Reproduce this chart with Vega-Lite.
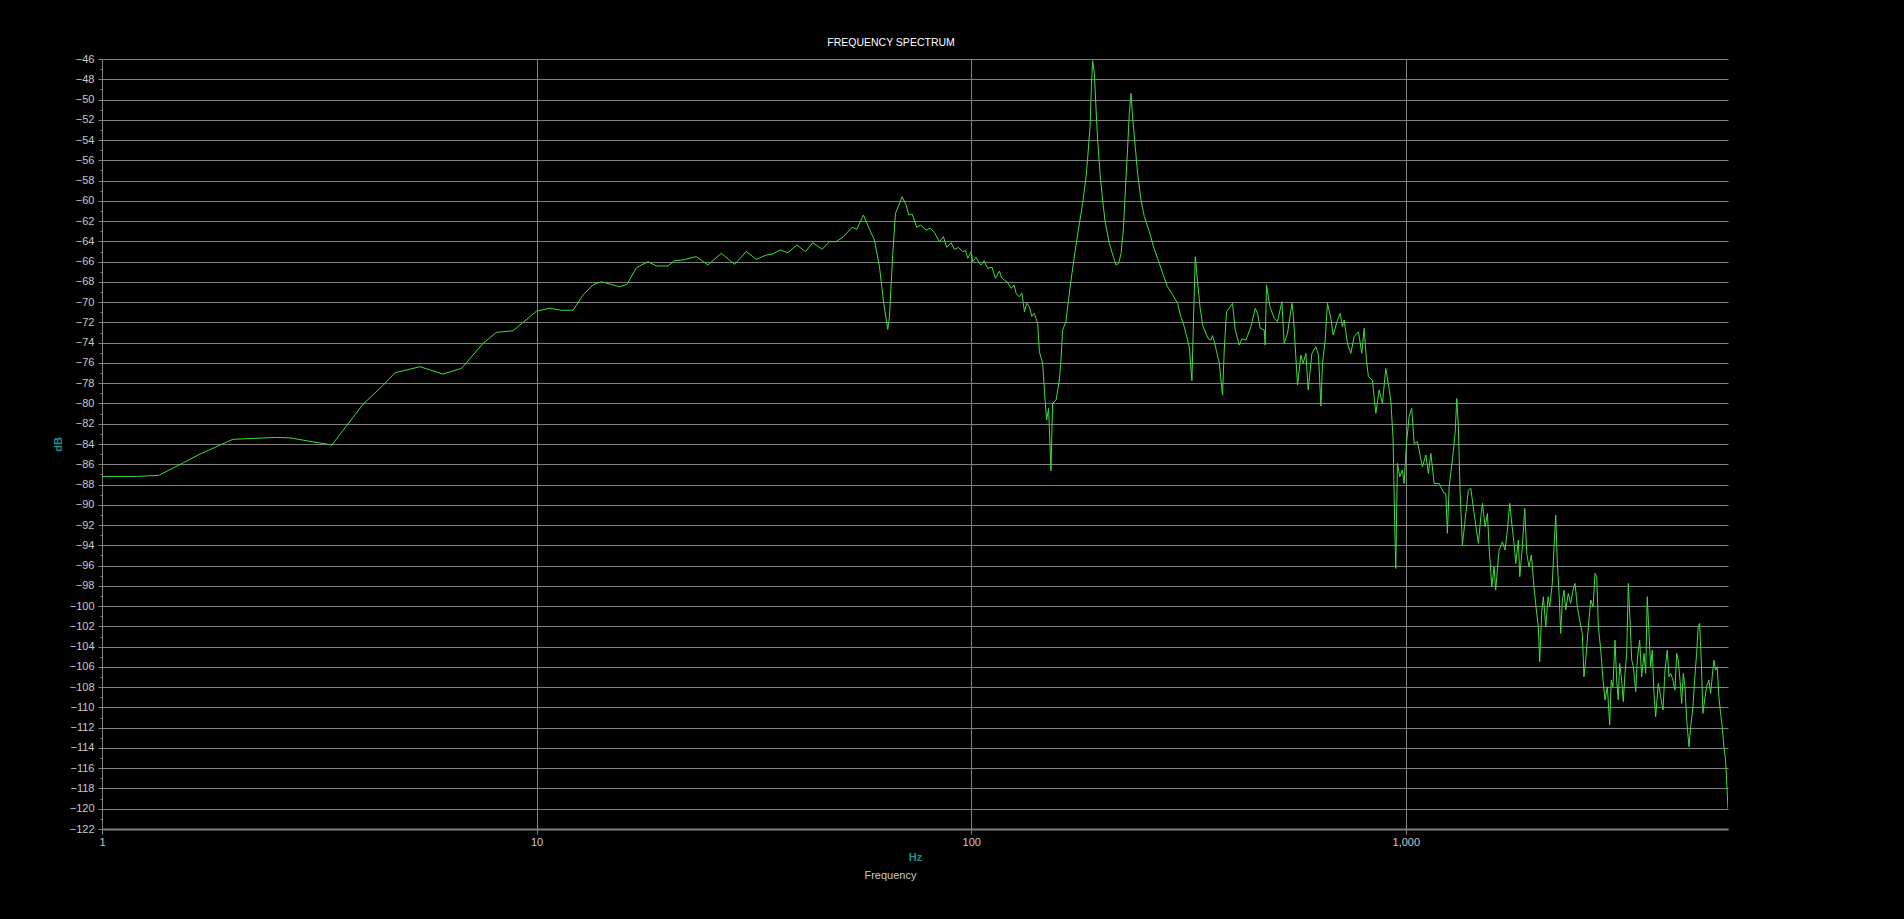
{
  "$schema": "https://vega.github.io/schema/vega-lite/v6.json",
  "autosize": "none",
  "width": 1626,
  "height": 770,
  "padding": {"left": 102, "top": 59, "right": 176, "bottom": 90},
  "background": "#000000",
  "config": {
    "view": {"stroke": null},
    "font": "Liberation Sans"
  },
  "title": {
    "text": "FREQUENCY SPECTRUM",
    "color": "#ffffff",
    "font": "Liberation Sans",
    "fontSize": 10.5,
    "fontWeight": "normal",
    "anchor": "middle",
    "dx": -24,
    "offset": 5
  },
  "layer": [
    {
      "data": {
        "values": [
          {"f": 1, "db": -87.2}, {"f": 1.2, "db": -87.2}, {"f": 1.35, "db": -87.1}, {"f": 1.54, "db": -85.85},
          {"f": 1.68, "db": -85.0}, {"f": 2.0, "db": -83.54}, {"f": 2.23, "db": -83.45}, {"f": 2.52, "db": -83.35},
          {"f": 2.71, "db": -83.4}, {"f": 2.96, "db": -83.68}, {"f": 3.38, "db": -84.1}, {"f": 3.99, "db": -80.06},
          {"f": 4.44, "db": -78.18}, {"f": 4.72, "db": -76.97}, {"f": 5.39, "db": -76.37}, {"f": 6.09, "db": -77.1},
          {"f": 6.72, "db": -76.53}, {"f": 7.53, "db": -74.07}, {"f": 8.08, "db": -72.98}, {"f": 8.83, "db": -72.82},
          {"f": 10.0, "db": -70.88}, {"f": 10.72, "db": -70.6}, {"f": 11.4, "db": -70.8}, {"f": 12.13, "db": -70.8},
          {"f": 12.79, "db": -69.3}, {"f": 13.48, "db": -68.3}, {"f": 14.09, "db": -67.98}, {"f": 15.53, "db": -68.48},
          {"f": 16.14, "db": -68.24}, {"f": 16.97, "db": -66.6}, {"f": 18.04, "db": -66.0}, {"f": 18.86, "db": -66.43},
          {"f": 20.05, "db": -66.43}, {"f": 20.78, "db": -65.9}, {"f": 21.71, "db": -65.84}, {"f": 23.31, "db": -65.5},
          {"f": 24.78, "db": -66.33}, {"f": 26.6, "db": -65.18}, {"f": 28.55, "db": -66.27}, {"f": 30.37, "db": -65.0},
          {"f": 32.03, "db": -65.77}, {"f": 33.76, "db": -65.35}, {"f": 34.97, "db": -65.25}, {"f": 36.36, "db": -64.85},
          {"f": 37.86, "db": -65.12}, {"f": 39.71, "db": -64.36}, {"f": 41.57, "db": -65.02}, {"f": 43.2, "db": -64.13},
          {"f": 45.41, "db": -64.79}, {"f": 47.2, "db": -64.03}, {"f": 48.9, "db": -64.03}, {"f": 50.8, "db": -63.54},
          {"f": 53.2, "db": -62.61}, {"f": 54.54, "db": -62.81}, {"f": 56.5, "db": -61.4}, {"f": 58.33, "db": -62.81},
          {"f": 59.9, "db": -63.87}, {"f": 61.5, "db": -66.5}, {"f": 62.92, "db": -70.12}, {"f": 64.27, "db": -72.69},
          {"f": 64.85, "db": -71.44}, {"f": 66.0, "db": -65.18}, {"f": 66.95, "db": -61.23}, {"f": 69.36, "db": -59.6},
          {"f": 70.84, "db": -60.41}, {"f": 71.82, "db": -61.4}, {"f": 73.13, "db": -61.3}, {"f": 74.93, "db": -62.61},
          {"f": 76.5, "db": -62.4}, {"f": 78.76, "db": -62.88}, {"f": 80.5, "db": -62.7}, {"f": 82.3, "db": -63.14},
          {"f": 84.5, "db": -64.03}, {"f": 86.3, "db": -63.54}, {"f": 87.85, "db": -64.59}, {"f": 89.9, "db": -64.13},
          {"f": 91.5, "db": -64.79}, {"f": 93.5, "db": -64.6}, {"f": 95.6, "db": -65.02}, {"f": 97, "db": -64.9},
          {"f": 98.2, "db": -65.67}, {"f": 100, "db": -65.02}, {"f": 100.8, "db": -66.0}, {"f": 102.6, "db": -65.58},
          {"f": 104.4, "db": -66.17}, {"f": 105.4, "db": -66.33}, {"f": 107, "db": -65.9}, {"f": 109.1, "db": -66.66},
          {"f": 111.7, "db": -66.56}, {"f": 113.7, "db": -67.65}, {"f": 116.1, "db": -66.93}, {"f": 117.5, "db": -67.6},
          {"f": 119.2, "db": -67.82}, {"f": 121, "db": -68.0}, {"f": 123.6, "db": -68.64}, {"f": 125.5, "db": -68.3},
          {"f": 127, "db": -69.2}, {"f": 129.1, "db": -69.47}, {"f": 130.8, "db": -69.1}, {"f": 132.6, "db": -70.95},
          {"f": 134.2, "db": -70.1}, {"f": 136.1, "db": -70.45}, {"f": 137.8, "db": -71.4}, {"f": 139.7, "db": -71.1},
          {"f": 142.2, "db": -72.09}, {"f": 143.5, "db": -74.89}, {"f": 146, "db": -76.04}, {"f": 148.1, "db": -79.99},
          {"f": 149.1, "db": -81.64}, {"f": 150.7, "db": -80.48}, {"f": 152.6, "db": -86.64}, {"f": 153.9, "db": -79.99},
          {"f": 156.8, "db": -79.66}, {"f": 159.5, "db": -77.69}, {"f": 160.9, "db": -75.71}, {"f": 162.3, "db": -72.75},
          {"f": 165.2, "db": -71.93}, {"f": 166.7, "db": -70.45}, {"f": 169.7, "db": -67.82}, {"f": 173.6, "db": -64.85},
          {"f": 177.4, "db": -62.22}, {"f": 180.5, "db": -60.24}, {"f": 183.8, "db": -57.62}, {"f": 185.3, "db": -55.8},
          {"f": 187.7, "db": -52.68}, {"f": 189, "db": -48.73}, {"f": 190.3, "db": -46.17}, {"f": 192, "db": -47.41},
          {"f": 193.8, "db": -51.03}, {"f": 195.4, "db": -54.0}, {"f": 197.9, "db": -57.28}, {"f": 200.6, "db": -59.92},
          {"f": 203.3, "db": -62.06}, {"f": 207.9, "db": -64.2}, {"f": 212.3, "db": -65.52}, {"f": 215.4, "db": -66.34},
          {"f": 218.4, "db": -66.17}, {"f": 221.2, "db": -65.18}, {"f": 223.9, "db": -62.88}, {"f": 226.3, "db": -58.93},
          {"f": 229.1, "db": -54.66}, {"f": 231.1, "db": -51.36}, {"f": 233.2, "db": -49.39}, {"f": 235.1, "db": -51.69},
          {"f": 238.5, "db": -54.66}, {"f": 241.5, "db": -57.28}, {"f": 245.9, "db": -59.92}, {"f": 250.2, "db": -61.56},
          {"f": 257, "db": -63.05}, {"f": 263, "db": -64.6}, {"f": 270.9, "db": -66.17}, {"f": 276, "db": -67.2},
          {"f": 283, "db": -68.48}, {"f": 290, "db": -69.2}, {"f": 298.5, "db": -70.12}, {"f": 303, "db": -71.3},
          {"f": 309.2, "db": -72.42}, {"f": 317.5, "db": -74.4}, {"f": 322, "db": -77.76}, {"f": 325, "db": -71.1},
          {"f": 327.8, "db": -65.52}, {"f": 331.6, "db": -67.82}, {"f": 336, "db": -70.45}, {"f": 341, "db": -72.3},
          {"f": 346.8, "db": -73.08}, {"f": 351, "db": -73.6}, {"f": 356.2, "db": -73.74}, {"f": 359, "db": -73.3},
          {"f": 362.5, "db": -73.9}, {"f": 367, "db": -74.9}, {"f": 372.2, "db": -76.04}, {"f": 378.7, "db": -79.17},
          {"f": 382.1, "db": -74.73}, {"f": 386.9, "db": -70.94}, {"f": 392.3, "db": -70.61}, {"f": 399.3, "db": -70.12},
          {"f": 405.1, "db": -72.75}, {"f": 413.7, "db": -74.23}, {"f": 420, "db": -73.6}, {"f": 428.7, "db": -73.74},
          {"f": 440.2, "db": -72.42}, {"f": 450.3, "db": -70.61}, {"f": 455.9, "db": -71.1}, {"f": 462.3, "db": -72.58},
          {"f": 472.2, "db": -72.75}, {"f": 474.7, "db": -74.23}, {"f": 478, "db": -68.3}, {"f": 486.7, "db": -70.45},
          {"f": 498, "db": -71.6}, {"f": 506.7, "db": -71.93}, {"f": 518.6, "db": -69.95}, {"f": 525, "db": -74.07},
          {"f": 534.3, "db": -73.08}, {"f": 547, "db": -70.12}, {"f": 550.7, "db": -71.1}, {"f": 556.6, "db": -74.4},
          {"f": 563.4, "db": -78.18}, {"f": 573.6, "db": -75.22}, {"f": 580.7, "db": -76.04}, {"f": 589, "db": -75.05},
          {"f": 596.2, "db": -78.67}, {"f": 608, "db": -75.05}, {"f": 621, "db": -74.4}, {"f": 629.7, "db": -75.22},
          {"f": 637.7, "db": -80.25}, {"f": 643.2, "db": -76.04}, {"f": 652.4, "db": -73.74}, {"f": 660.3, "db": -70.12},
          {"f": 672.3, "db": -71.6}, {"f": 680.6, "db": -73.25}, {"f": 696.2, "db": -71.77}, {"f": 706.3, "db": -71.1},
          {"f": 714.9, "db": -72.42}, {"f": 721.3, "db": -71.77}, {"f": 734, "db": -74.07}, {"f": 747.3, "db": -75.05},
          {"f": 760.5, "db": -73.41}, {"f": 778, "db": -72.92}, {"f": 792.1, "db": -75.05}, {"f": 801.9, "db": -72.58},
          {"f": 811.7, "db": -75.71}, {"f": 820.3, "db": -77.36}, {"f": 837.9, "db": -77.69}, {"f": 853.1, "db": -80.98},
          {"f": 868.2, "db": -78.67}, {"f": 883.5, "db": -79.99}, {"f": 899.4, "db": -76.53}, {"f": 923.6, "db": -79.66},
          {"f": 935, "db": -83.61}, {"f": 943.4, "db": -92.5}, {"f": 948.4, "db": -96.28}, {"f": 956.5, "db": -85.91},
          {"f": 968.7, "db": -87.23}, {"f": 982.2, "db": -86.57}, {"f": 991.1, "db": -87.89}, {"f": 1003.5, "db": -83.94},
          {"f": 1017.6, "db": -81.31}, {"f": 1032, "db": -80.48}, {"f": 1045, "db": -83.94}, {"f": 1063.4, "db": -83.78},
          {"f": 1092, "db": -86.24}, {"f": 1112, "db": -85.09}, {"f": 1127, "db": -86.9}, {"f": 1142, "db": -84.92},
          {"f": 1162, "db": -87.89}, {"f": 1193, "db": -87.89}, {"f": 1225, "db": -88.87}, {"f": 1236, "db": -88.87},
          {"f": 1246.5, "db": -92.82}, {"f": 1258, "db": -88.22}, {"f": 1285, "db": -84.92}, {"f": 1298.5, "db": -82.95},
          {"f": 1310, "db": -79.5}, {"f": 1321.2, "db": -82.3}, {"f": 1333, "db": -88.55}, {"f": 1349.5, "db": -93.97},
          {"f": 1369, "db": -91.51}, {"f": 1393, "db": -88.55}, {"f": 1411, "db": -88.38}, {"f": 1436, "db": -90.85},
          {"f": 1469, "db": -93.81}, {"f": 1488, "db": -91.18}, {"f": 1501, "db": -89.86}, {"f": 1522, "db": -92.17},
          {"f": 1541, "db": -90.85}, {"f": 1554.5, "db": -94.14}, {"f": 1577, "db": -98.09}, {"f": 1596, "db": -96.12},
          {"f": 1610, "db": -98.42}, {"f": 1639, "db": -94.47}, {"f": 1668, "db": -93.65}, {"f": 1692, "db": -94.47},
          {"f": 1713, "db": -92.5}, {"f": 1734.5, "db": -89.86}, {"f": 1753, "db": -91.84}, {"f": 1774.6, "db": -93.81},
          {"f": 1790.6, "db": -95.78}, {"f": 1815.5, "db": -93.48}, {"f": 1829, "db": -97.1}, {"f": 1854, "db": -94.14},
          {"f": 1878, "db": -90.35}, {"f": 1898, "db": -94.8}, {"f": 1921, "db": -96.12}, {"f": 1945, "db": -94.96},
          {"f": 1972, "db": -98.09}, {"f": 1997, "db": -100.39}, {"f": 2018, "db": -102.04}, {"f": 2033, "db": -105.5},
          {"f": 2055, "db": -100.55}, {"f": 2072.6, "db": -99.07}, {"f": 2099, "db": -102.04}, {"f": 2125, "db": -99.07},
          {"f": 2143.5, "db": -100.06}, {"f": 2173, "db": -97.76}, {"f": 2193, "db": -94.14}, {"f": 2213, "db": -91.01},
          {"f": 2232, "db": -95.78}, {"f": 2252, "db": -98.75}, {"f": 2272, "db": -102.69}, {"f": 2292, "db": -99.4},
          {"f": 2312, "db": -98.42}, {"f": 2333, "db": -100.39}, {"f": 2365, "db": -98.75}, {"f": 2395, "db": -99.73},
          {"f": 2425, "db": -98.42}, {"f": 2451, "db": -97.76}, {"f": 2481, "db": -100.06}, {"f": 2512.6, "db": -101.38},
          {"f": 2547.5, "db": -102.69}, {"f": 2570, "db": -106.98}, {"f": 2594, "db": -105.33}, {"f": 2630, "db": -102.04},
          {"f": 2664, "db": -99.4}, {"f": 2697, "db": -100.06}, {"f": 2725.6, "db": -96.77}, {"f": 2750, "db": -97.1},
          {"f": 2773.5, "db": -102.04}, {"f": 2809, "db": -104.34}, {"f": 2843, "db": -107.3}, {"f": 2873, "db": -109.27},
          {"f": 2909, "db": -107.96}, {"f": 2945, "db": -111.74}, {"f": 2970, "db": -107.3}, {"f": 2997, "db": -107.96},
          {"f": 3029, "db": -103.35}, {"f": 3056, "db": -107.3}, {"f": 3082, "db": -109.27}, {"f": 3105, "db": -105.65},
          {"f": 3138, "db": -107.3}, {"f": 3165, "db": -109.44}, {"f": 3194, "db": -106.64}, {"f": 3223, "db": -104.67},
          {"f": 3251, "db": -97.76}, {"f": 3280, "db": -101.38}, {"f": 3310, "db": -105.33}, {"f": 3338.5, "db": -105.99},
          {"f": 3381, "db": -108.45}, {"f": 3409, "db": -105.33}, {"f": 3452, "db": -103.35}, {"f": 3489, "db": -106.98},
          {"f": 3532, "db": -104.67}, {"f": 3564, "db": -106.64}, {"f": 3594, "db": -99.07}, {"f": 3627, "db": -102.69},
          {"f": 3660, "db": -105.99}, {"f": 3691, "db": -104.34}, {"f": 3724, "db": -108.62}, {"f": 3758, "db": -110.93},
          {"f": 3810, "db": -107.63}, {"f": 3859, "db": -108.95}, {"f": 3906, "db": -110.26}, {"f": 3948, "db": -106.31},
          {"f": 3996, "db": -104.34}, {"f": 4032, "db": -106.98}, {"f": 4068.5, "db": -106.64}, {"f": 4118, "db": -107.3},
          {"f": 4162, "db": -108.29}, {"f": 4200, "db": -104.67}, {"f": 4236, "db": -105.33}, {"f": 4274.5, "db": -107.3},
          {"f": 4313, "db": -109.6}, {"f": 4350, "db": -106.64}, {"f": 4389, "db": -107.96}, {"f": 4428.5, "db": -111.25},
          {"f": 4483, "db": -113.89}, {"f": 4523, "db": -111.91}, {"f": 4578, "db": -109.93}, {"f": 4619, "db": -107.3},
          {"f": 4668, "db": -104.67}, {"f": 4708, "db": -102.04}, {"f": 4743, "db": -101.71}, {"f": 4784, "db": -105.33},
          {"f": 4827, "db": -110.59}, {"f": 4870, "db": -109.27}, {"f": 4922, "db": -107.96}, {"f": 4982, "db": -107.3},
          {"f": 5027, "db": -108.62}, {"f": 5070, "db": -106.98}, {"f": 5116, "db": -105.33}, {"f": 5162, "db": -106.31},
          {"f": 5206, "db": -105.99}, {"f": 5253, "db": -108.95}, {"f": 5300, "db": -110.59}, {"f": 5346, "db": -111.91},
          {"f": 5394, "db": -113.89}, {"f": 5442, "db": -115.2}, {"f": 5480, "db": -117.7}, {"f": 5512, "db": -120.0}
        ]
      },
      "mark": {"type": "line", "color": "#3fdc3f", "strokeWidth": 1, "clip": true},
      "encoding": {
        "x": {
          "field": "f",
          "type": "quantitative",
          "scale": {"type": "log", "domain": [1, 5512.5], "nice": false},
          "axis": {
            "title": "Hz",
            "titleColor": "#1f9090",
            "titleFont": "Liberation Sans",
            "titleFontSize": 11,
            "titleFontWeight": "bold",
            "titlePadding": 4,
            "values": [1, 10, 100, 1000],
            "format": ",",
            "labelColor": "#c8c8c8",
            "labelFont": "Liberation Sans",
            "labelFontSize": 11,
            "labelPadding": 2,
            "labelFlush": false,
            "tickColor": "#808080",
            "tickSize": 5,
            "domainColor": "#808080",
            "domainWidth": 2,
            "grid": true,
            "gridColor": "#808080",
            "gridWidth": 1
          }
        },
        "y": {
          "field": "db",
          "type": "quantitative",
          "scale": {"domain": [-122, -46], "nice": false, "zero": false},
          "axis": {
            "title": "dB",
            "titleColor": "#1f9090",
            "titleFont": "Liberation Sans",
            "titleFontSize": 11,
            "titleFontWeight": "bold",
            "titlePadding": 6,
            "tickCount": 152,
            "format": "d",
            "labelExpr": "datum.value % 2 === 0 ? datum.label : ''",
            "labelOverlap": false,
            "labelColor": "#c8c8c8",
            "labelFont": "Liberation Sans",
            "labelFontSize": 11,
            "labelPadding": 4,
            "labelFlush": false,
            "tickColor": "#808080",
            "tickSize": {"condition": {"test": "datum.value % 2 === 0", "value": 4}, "value": 2},
            "domainColor": "#808080",
            "domainWidth": 1,
            "grid": true,
            "gridColor": "#808080",
            "gridWidth": 1,
            "gridOpacity": {"condition": {"test": "datum.value % 2 === 0", "value": 1}, "value": 0}
          }
        }
      }
    },
    {
      "data": {"values": [{}]},
      "mark": {"type": "text", "text": "Frequency", "color": "#c8c8c8", "font": "Liberation Sans", "fontSize": 11, "align": "center", "baseline": "middle"},
      "encoding": {
        "x": {"datum": 65.2},
        "y": {"datum": -126.6}
      }
    }
  ]
}
